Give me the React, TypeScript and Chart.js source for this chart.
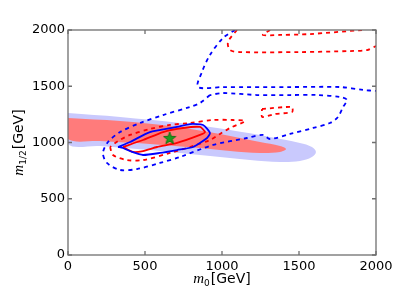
import { useEffect, useRef } from "react";
import { Chart, registerables } from "chart.js";
Chart.register(...registerables);

const xTicks = [0, 500, 1000, 1500, 2000];
const yTicks = [0, 500, 1000, 1500, 2000];

// light blue filled band
const blueBandM0 = [0, 338, 727, 1052, 1312, 1506, 1584, 1610, 1584, 1506, 1377, 1182, 857, 532, 208, 0];
const blueBandM12 = [1262, 1227, 1173, 1111, 1049, 996, 960, 916, 871, 836, 827, 844, 889, 933, 969, 987];

// red filled band
const redBandM0 = [0, 338, 662, 987, 1247, 1377, 1416, 1377, 1247, 1052, 857, 532, 208, 0];
const redBandM12 = [1218, 1191, 1147, 1076, 1004, 969, 942, 916, 907, 924, 951, 987, 1013, 1031];

// solid contours
const blueSolidM0 = [325, 403, 532, 708, 792, 877, 922, 903, 812, 708, 597, 487, 416, 357];
const blueSolidM12 = [960, 1004, 1093, 1138, 1164, 1156, 1084, 1040, 960, 933, 907, 889, 916, 951];
const redSolidM0 = [357, 487, 617, 747, 857, 890, 857, 708, 578, 487, 422];
const redSolidM12 = [960, 1022, 1093, 1129, 1138, 1093, 1067, 996, 960, 924, 916];

// dashed contours
const blueLoopM0 = [922, 857, 792, 617, 468, 338, 260, 227, 253, 338, 448, 597, 727, 942, 1162, 1266, 1312, 1442, 1591, 1701, 1753, 1786, 1812, 1766, 1617, 1442, 1227, 1006];
const blueLoopM12 = [1422, 1351, 1316, 1244, 1173, 1093, 1004, 907, 818, 756, 764, 818, 871, 978, 1040, 1067, 1031, 1076, 1129, 1173, 1227, 1316, 1378, 1404, 1422, 1422, 1422, 1440];
const blueUpperM0 = [1084, 1006, 922, 870, 844, 1006, 1442, 1766, 1916, 2000];
const blueUpperM12 = [2000, 1929, 1778, 1627, 1493, 1493, 1493, 1493, 1467, 1458];
const redLoopM0 = [273, 292, 383, 487, 662, 792, 922, 987, 1052, 1149, 1071, 942, 792, 662, 532, 403, 325];
const redLoopM12 = [960, 889, 844, 844, 907, 960, 1022, 1076, 1129, 1191, 1200, 1200, 1173, 1156, 1120, 1067, 1013];
const redSmallM0 = [1260, 1455, 1455, 1344, 1260];
const redSmallM12 = [1298, 1316, 1271, 1253, 1227];
const redUpperAM0 = [1097, 1039, 1052, 1117, 1506, 1831, 1942, 2000];
const redUpperAM12 = [2000, 1893, 1822, 1804, 1804, 1813, 1822, 1858];
const redUpperBM0 = [1312, 1266, 1377, 1571, 1909];
const redUpperBM12 = [2000, 1956, 1956, 1964, 2000];

// best-fit point
const starM0 = [660];
const starM12 = [1040];

function pts(xs: number[], ys: number[], close: boolean) {
  const p = xs.map((x, i) => ({ x, y: ys[i] }));
  if (close) p.push({ ...p[0] });
  return p;
}

function makeStar() {
  const c = document.createElement("canvas");
  c.width = 14;
  c.height = 14;
  const g = c.getContext("2d")!;
  g.beginPath();
  for (let i = 0; i < 10; i++) {
    const r = i % 2 === 0 ? 6.5 : 2.7;
    const a = -Math.PI / 2 + (i * Math.PI) / 5;
    const px = 7 + r * Math.cos(a);
    const py = 7.5 + r * Math.sin(a);
    if (i === 0) g.moveTo(px, py);
    else g.lineTo(px, py);
  }
  g.closePath();
  g.fillStyle = "#1e9a1e";
  g.fill();
  g.strokeStyle = "#0a6a0a";
  g.lineWidth = 0.8;
  g.stroke();
  return c;
}

type Part = { text: string; font: string; dy: number; gap?: number };

function drawMath(ctx: CanvasRenderingContext2D, parts: Part[], cx: number, baseline: number) {
  let total = 0;
  const widths = parts.map((p) => {
    ctx.font = p.font;
    const w = ctx.measureText(p.text).width + (p.gap || 0);
    total += w;
    return w;
  });
  let x = cx - total / 2;
  ctx.fillStyle = "#000";
  ctx.textBaseline = "alphabetic";
  ctx.textAlign = "left";
  parts.forEach((p, i) => {
    ctx.font = p.font;
    ctx.fillText(p.text, x, baseline + p.dy);
    x += widths[i];
  });
}

const framePlugin = {
  id: "frameTicks",
  afterDatasetsDraw(chart: any) {
    const { ctx, chartArea: a, scales } = chart;
    ctx.save();
    ctx.strokeStyle = "#6f6f6f";
    ctx.lineWidth = 1.3;
    ctx.strokeRect(a.left, a.top, a.right - a.left, a.bottom - a.top);
    ctx.beginPath();
    xTicks.forEach((v) => {
      const px = scales.x.getPixelForValue(v);
      ctx.moveTo(px, a.bottom);
      ctx.lineTo(px, a.bottom - 4);
      ctx.moveTo(px, a.top);
      ctx.lineTo(px, a.top + 4);
    });
    yTicks.forEach((v) => {
      const py = scales.y.getPixelForValue(v);
      ctx.moveTo(a.left, py);
      ctx.lineTo(a.left + 4, py);
      ctx.moveTo(a.right, py);
      ctx.lineTo(a.right - 4, py);
    });
    ctx.stroke();

    const cx = (a.left + a.right) / 2;
    drawMath(
      ctx,
      [
        { text: "m", font: 'italic 15px "Liberation Serif"', dy: 0 },
        { text: "0", font: '9px "DejaVu Sans"', dy: 3, gap: 1 },
        { text: "[GeV]", font: '14px "DejaVu Sans"', dy: 0 },
      ],
      cx,
      283
    );
    const cy = (a.top + a.bottom) / 2;
    ctx.translate(23, cy);
    ctx.rotate(-Math.PI / 2);
    drawMath(
      ctx,
      [
        { text: "m", font: 'italic 15px "Liberation Serif"', dy: 0 },
        { text: "1/2", font: '9px "DejaVu Sans"', dy: 3, gap: 1 },
        { text: "[GeV]", font: '14px "DejaVu Sans"', dy: 0 },
      ],
      0,
      0
    );
    ctx.restore();
  },
};

export default function App() {
  const ref = useRef<HTMLCanvasElement>(null);
  useEffect(() => {
    const line = (
      data: any[],
      color: string,
      dashed: boolean,
      order: number,
      tension: number
    ) => ({
      data,
      showLine: true,
      borderColor: color,
      borderWidth: 1.8,
      borderDash: dashed ? [4, 4] : [],
      pointRadius: 0,
      fill: false,
      tension,
      order,
    });
    const tickFont = { family: '"DejaVu Sans"', size: 13 };
    const chart = new Chart(ref.current!, {
      type: "scatter",
      data: {
        datasets: [
          {
            data: pts(starM0, starM12, false),
            pointStyle: makeStar(),
            pointRadius: 7,
            showLine: false,
            order: 0,
          } as any,
          line(pts(blueSolidM0, blueSolidM12, true), "#0000ff", false, 1, 0.2),
          line(pts(redSolidM0, redSolidM12, true), "#ff0000", false, 2, 0.2),
          line(pts(blueLoopM0, blueLoopM12, true), "#0000ff", true, 3, 0.3),
          line(pts(blueUpperM0, blueUpperM12, false), "#0000ff", true, 3, 0.3),
          line(pts(redLoopM0, redLoopM12, true), "#ff0000", true, 4, 0.3),
          line(pts(redSmallM0, redSmallM12, true), "#ff0000", true, 4, 0.2),
          line(pts(redUpperAM0, redUpperAM12, false), "#ff0000", true, 4, 0.3),
          line(pts(redUpperBM0, redUpperBM12, false), "#ff0000", true, 4, 0.3),
          {
            data: pts(redBandM0, redBandM12, true),
            showLine: true,
            borderWidth: 0,
            borderColor: "rgba(0,0,0,0)",
            backgroundColor: "#ff7b7b",
            fill: "shape",
            pointRadius: 0,
            tension: 0.35,
            order: 8,
          } as any,
          {
            data: pts(blueBandM0, blueBandM12, true),
            showLine: true,
            borderWidth: 0,
            borderColor: "rgba(0,0,0,0)",
            backgroundColor: "#c9c9fd",
            fill: "shape",
            pointRadius: 0,
            tension: 0.35,
            order: 9,
          } as any,
        ],
      },
      options: {
        responsive: false,
        animation: false,
        events: [],
        layout: { padding: { left: 0, top: 30, right: 24, bottom: 0 } },
        plugins: { legend: { display: false }, tooltip: { enabled: false } },
        scales: {
          x: {
            type: "linear",
            min: 0,
            max: 2000,
            afterFit: (s: any) => {
              s.height = 45;
            },
            afterBuildTicks: (s: any) => {
              s.ticks = xTicks.map((v) => ({ value: v }));
            },
            grid: { display: false, drawTicks: false },
            border: { display: false },
            ticks: {
              color: "#000",
              padding: 4,
              maxRotation: 0,
              font: tickFont,
              callback: (v: any) => String(v),
            },
          },
          y: {
            type: "linear",
            min: 0,
            max: 2000,
            afterFit: (s: any) => {
              s.width = 68;
            },
            afterBuildTicks: (s: any) => {
              s.ticks = yTicks.map((v) => ({ value: v }));
            },
            grid: { display: false, drawTicks: false },
            border: { display: false },
            ticks: {
              color: "#000",
              padding: 3,
              font: tickFont,
              callback: (v: any) => String(v),
            },
          },
        },
      },
      plugins: [framePlugin],
    });
    return () => chart.destroy();
  }, []);
  return (
    <div style={{ position: "fixed", left: 0, top: 0, width: 400, height: 300, background: "#fff" }}>
      <canvas ref={ref} width={400} height={300} style={{ display: "block" }} />
    </div>
  );
}
